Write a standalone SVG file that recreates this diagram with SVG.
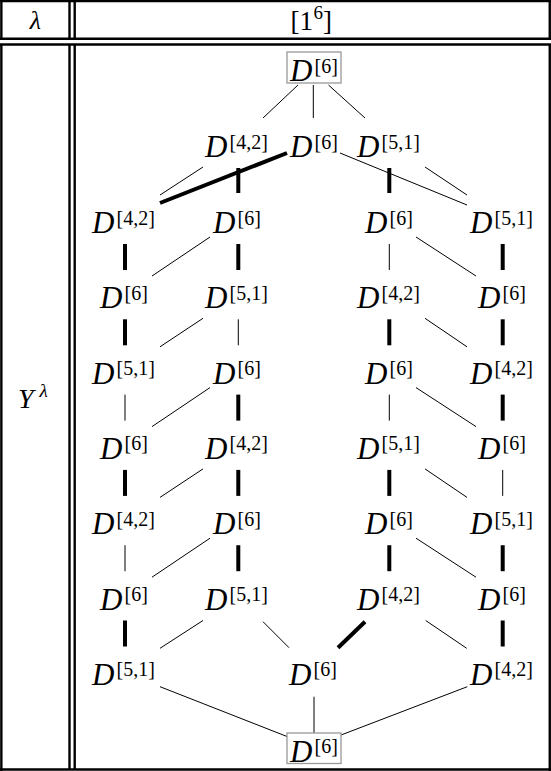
<svg xmlns="http://www.w3.org/2000/svg" width="551" height="771" viewBox="0 0 551 771">
<style>
text{font-family:"Liberation Serif","Times New Roman",serif;fill:#000}
.D{font-style:italic;font-size:31px}
.s{font-size:20px}
.hi{font-style:italic;font-size:26px}
.hr{font-size:27px}
.hs{font-size:19px}
.rule{stroke:#000;stroke-width:2.4;fill:none}
.thin{stroke:#000;stroke-width:1;fill:none}
.thick{stroke:#000;stroke-width:4;fill:none}
.box{fill:#fff;stroke:#999;stroke-width:1.3}
</style>
<g id="table">
<line class="rule" x1="0" y1="1" x2="551" y2="1"/>
<line class="rule" x1="0" y1="38.8" x2="551" y2="38.8"/>
<line class="rule" x1="0" y1="44.5" x2="551" y2="44.5"/>
<line class="rule" x1="0" y1="769.5" x2="551" y2="769.5"/>
<line class="rule" x1="1.35" y1="0" x2="1.35" y2="38.8"/>
<line class="rule" x1="1.35" y1="44.5" x2="1.35" y2="771"/>
<line class="rule" x1="549.75" y1="0" x2="549.75" y2="38.8"/>
<line class="rule" x1="549.75" y1="44.5" x2="549.75" y2="771"/>
<line class="rule" x1="69.5" y1="0" x2="69.5" y2="38.8"/>
<line class="rule" x1="74.7" y1="0" x2="74.7" y2="38.8"/>
<line class="rule" x1="69.5" y1="44.5" x2="69.5" y2="769.5"/>
<line class="rule" x1="74.7" y1="44.5" x2="74.7" y2="769.5"/>
<text class="hi" x="35.5" y="28.5" text-anchor="middle">λ</text>
<text><tspan class="hr" x="290.5" y="29.5">[1</tspan><tspan class="hs" x="313.5" y="18.5">6</tspan><tspan class="hr" x="323" y="29.5">]</tspan></text>
<text><tspan class="hi" x="18" y="408" style="font-size:28px">Y</tspan><tspan class="hi" x="39.5" y="397" style="font-size:19px">λ</tspan></text>
</g>
<g id="connectors">
<line class="thin" x1="298" y1="85" x2="263" y2="118"/>
<line class="thin" x1="313.3" y1="85" x2="313.3" y2="118"/>
<line class="thin" x1="328.5" y1="85" x2="365" y2="118"/>
<line class="thin" x1="203" y1="167" x2="160" y2="195"/>
<line class="thick" x1="287" y1="153" x2="160" y2="203"/>
<line class="thick" x1="238.3" y1="168" x2="238.3" y2="193"/>
<line class="thin" x1="340" y1="153" x2="467" y2="205"/>
<line class="thick" x1="389.3" y1="168" x2="389.3" y2="193"/>
<line class="thin" x1="425" y1="167" x2="467" y2="195"/>
<!-- rows 2-3 -->
<line class="thick" x1="125" y1="244" x2="125" y2="270"/>
<line class="thin" x1="210" y1="237" x2="152" y2="276"/>
<line class="thick" x1="238.3" y1="244" x2="238.3" y2="270"/>
<line class="thin" x1="389.3" y1="244" x2="389.3" y2="270"/>
<line class="thin" x1="416" y1="237" x2="476" y2="276"/>
<line class="thick" x1="502.7" y1="244" x2="502.7" y2="270"/>
<!-- rows 3-4 -->
<line class="thick" x1="125" y1="319.3" x2="125" y2="345.3"/>
<line class="thin" x1="203" y1="318.3" x2="160" y2="346.8"/>
<line class="thin" x1="238.3" y1="319.3" x2="238.3" y2="345.3"/>
<line class="thick" x1="389.3" y1="319.3" x2="389.3" y2="345.3"/>
<line class="thin" x1="425" y1="318.3" x2="467" y2="346.8"/>
<line class="thick" x1="502.7" y1="319.3" x2="502.7" y2="345.3"/>
<!-- rows 4-5 -->
<line class="thin" x1="125" y1="394.6" x2="125" y2="420.6"/>
<line class="thin" x1="210" y1="387.6" x2="152" y2="426.6"/>
<line class="thick" x1="238.3" y1="394.6" x2="238.3" y2="420.6"/>
<line class="thin" x1="389.3" y1="394.6" x2="389.3" y2="420.6"/>
<line class="thin" x1="416" y1="387.6" x2="476" y2="426.6"/>
<line class="thick" x1="502.7" y1="394.6" x2="502.7" y2="420.6"/>
<!-- rows 5-6 -->
<line class="thick" x1="125" y1="469.9" x2="125" y2="495.9"/>
<line class="thin" x1="203" y1="468.9" x2="160" y2="497.4"/>
<line class="thick" x1="238.3" y1="469.9" x2="238.3" y2="495.9"/>
<line class="thick" x1="389.3" y1="469.9" x2="389.3" y2="495.9"/>
<line class="thin" x1="425" y1="468.9" x2="467" y2="497.4"/>
<line class="thin" x1="502.7" y1="469.9" x2="502.7" y2="495.9"/>
<!-- rows 6-7 -->
<line class="thin" x1="125" y1="545.2" x2="125" y2="571.2"/>
<line class="thin" x1="210" y1="538.2" x2="152" y2="577.2"/>
<line class="thick" x1="238.3" y1="545.2" x2="238.3" y2="571.2"/>
<line class="thick" x1="389.3" y1="545.2" x2="389.3" y2="571.2"/>
<line class="thin" x1="416" y1="538.2" x2="476" y2="577.2"/>
<line class="thick" x1="502.7" y1="545.2" x2="502.7" y2="571.2"/>
<!-- rows 7-8 -->
<line class="thick" x1="125" y1="620.5" x2="125" y2="646.5"/>
<line class="thin" x1="203" y1="620.5" x2="160" y2="648.3"/>
<line class="thin" x1="263" y1="621.7" x2="289" y2="647.7"/>
<line class="thick" x1="365" y1="621.7" x2="338" y2="647.7"/>
<line class="thin" x1="425.7" y1="620.5" x2="466.7" y2="648.3"/>
<line class="thick" x1="502.7" y1="620.5" x2="502.7" y2="646.5"/>
<!-- row 8 to bottom -->
<line class="thin" x1="160" y1="686.7" x2="287" y2="736.5"/>
<line class="thin" x1="314" y1="696.7" x2="314" y2="733"/>
<line class="thin" x1="467.3" y1="686.7" x2="341" y2="735"/>
</g>
<g id="top">
<rect class="box" x="287" y="52" width="54" height="31"/>
<text><tspan class="D" x="290" y="81">D</tspan><tspan class="s" x="314.5" y="72.5">[6]</tspan></text>
</g>
<g id="r1_42"><text><tspan class="D" x="205" y="157">D</tspan><tspan class="s" x="229.5" y="148.5">[4,2]</tspan></text></g>
<g id="r1_6"><text><tspan class="D" x="290" y="157">D</tspan><tspan class="s" x="314.5" y="148.5">[6]</tspan></text></g>
<g id="r1_51"><text><tspan class="D" x="357" y="157">D</tspan><tspan class="s" x="381.5" y="148.5">[5,1]</tspan></text></g>

<g id="r2_a"><text><tspan class="D" x="92" y="233">D</tspan><tspan class="s" x="116.5" y="224.5">[4,2]</tspan></text></g>
<g id="r2_b"><text><tspan class="D" x="213" y="233">D</tspan><tspan class="s" x="237.5" y="224.5">[6]</tspan></text></g>
<g id="r2_c"><text><tspan class="D" x="365" y="233">D</tspan><tspan class="s" x="389.5" y="224.5">[6]</tspan></text></g>
<g id="r2_d"><text><tspan class="D" x="470" y="233">D</tspan><tspan class="s" x="494.5" y="224.5">[5,1]</tspan></text></g>

<g id="r3_a"><text><tspan class="D" x="100" y="308.3">D</tspan><tspan class="s" x="124.5" y="299.8">[6]</tspan></text></g>
<g id="r3_b"><text><tspan class="D" x="205" y="308.3">D</tspan><tspan class="s" x="229.5" y="299.8">[5,1]</tspan></text></g>
<g id="r3_c"><text><tspan class="D" x="357" y="308.3">D</tspan><tspan class="s" x="381.5" y="299.8">[4,2]</tspan></text></g>
<g id="r3_d"><text><tspan class="D" x="478" y="308.3">D</tspan><tspan class="s" x="502.5" y="299.8">[6]</tspan></text></g>

<g id="r4_a"><text><tspan class="D" x="92" y="383.6">D</tspan><tspan class="s" x="116.5" y="375.1">[5,1]</tspan></text></g>
<g id="r4_b"><text><tspan class="D" x="213" y="383.6">D</tspan><tspan class="s" x="237.5" y="375.1">[6]</tspan></text></g>
<g id="r4_c"><text><tspan class="D" x="365" y="383.6">D</tspan><tspan class="s" x="389.5" y="375.1">[6]</tspan></text></g>
<g id="r4_d"><text><tspan class="D" x="470" y="383.6">D</tspan><tspan class="s" x="494.5" y="375.1">[4,2]</tspan></text></g>

<g id="r5_a"><text><tspan class="D" x="100" y="458.9">D</tspan><tspan class="s" x="124.5" y="450.4">[6]</tspan></text></g>
<g id="r5_b"><text><tspan class="D" x="205" y="458.9">D</tspan><tspan class="s" x="229.5" y="450.4">[4,2]</tspan></text></g>
<g id="r5_c"><text><tspan class="D" x="357" y="458.9">D</tspan><tspan class="s" x="381.5" y="450.4">[5,1]</tspan></text></g>
<g id="r5_d"><text><tspan class="D" x="478" y="458.9">D</tspan><tspan class="s" x="502.5" y="450.4">[6]</tspan></text></g>

<g id="r6_a"><text><tspan class="D" x="92" y="534.2">D</tspan><tspan class="s" x="116.5" y="525.7">[4,2]</tspan></text></g>
<g id="r6_b"><text><tspan class="D" x="213" y="534.2">D</tspan><tspan class="s" x="237.5" y="525.7">[6]</tspan></text></g>
<g id="r6_c"><text><tspan class="D" x="365" y="534.2">D</tspan><tspan class="s" x="389.5" y="525.7">[6]</tspan></text></g>
<g id="r6_d"><text><tspan class="D" x="470" y="534.2">D</tspan><tspan class="s" x="494.5" y="525.7">[5,1]</tspan></text></g>

<g id="r7_a"><text><tspan class="D" x="100" y="609.5">D</tspan><tspan class="s" x="124.5" y="601">[6]</tspan></text></g>
<g id="r7_b"><text><tspan class="D" x="205" y="609.5">D</tspan><tspan class="s" x="229.5" y="601">[5,1]</tspan></text></g>
<g id="r7_c"><text><tspan class="D" x="357" y="609.5">D</tspan><tspan class="s" x="381.5" y="601">[4,2]</tspan></text></g>
<g id="r7_d"><text><tspan class="D" x="478" y="609.5">D</tspan><tspan class="s" x="502.5" y="601">[6]</tspan></text></g>

<g id="r8_a"><text><tspan class="D" x="92" y="684.8">D</tspan><tspan class="s" x="116.5" y="676.3">[5,1]</tspan></text></g>
<g id="r8_m"><text><tspan class="D" x="289" y="684.8">D</tspan><tspan class="s" x="313.5" y="676.3">[6]</tspan></text></g>
<g id="r8_d"><text><tspan class="D" x="470" y="684.8">D</tspan><tspan class="s" x="494.5" y="676.3">[4,2]</tspan></text></g>

<g id="bottom">
<rect class="box" x="287" y="733" width="54" height="30.5"/>
<text><tspan class="D" x="290" y="761.5">D</tspan><tspan class="s" x="314.5" y="753">[6]</tspan></text>
</g>
</svg>
